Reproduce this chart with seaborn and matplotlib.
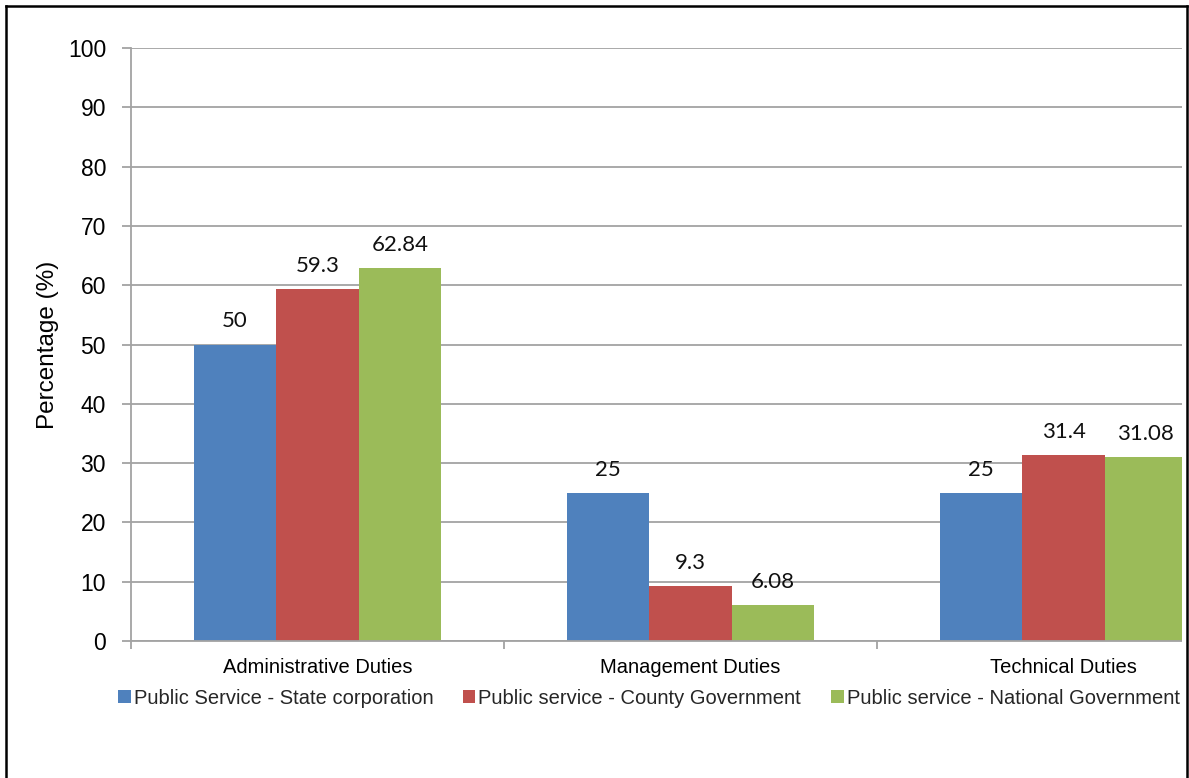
import matplotlib
matplotlib.use("Agg")
import matplotlib.pyplot as plt
from matplotlib import font_manager
from matplotlib.lines import Line2D
from matplotlib.patches import Rectangle
import pandas as pd
import seaborn as sns

# Share of respondents by type of duty, per public-service sector
duties = ["Administrative Duties", "Management Duties", "Technical Duties"]
sectors = [
    "Public Service - State corporation",
    "Public service - County Government",
    "Public service - National Government",
]
state_corp = [50, 25, 25]
county_gov = [59.3, 9.3, 31.4]
national_gov = [62.84, 6.08, 31.08]
colors = ["#4F81BD", "#C0504D", "#9BBB59"]
y_ticks = list(range(0, 101, 10))

rows = []
for sector, values in zip(sectors, [state_corp, county_gov, national_gov]):
    for duty, v in zip(duties, values):
        rows.append({"duty": duty, "sector": sector, "pct": v})
df = pd.DataFrame(rows)

sns.set_style("white")
names = {f.name for f in font_manager.fontManager.ttflist}
if "Liberation Sans Narrow" in names:
    narrow_family, narrow_size = "Liberation Sans Narrow", 17
else:
    narrow_family, narrow_size = "Liberation Sans", 14.5
plt.rcParams["font.family"] = ["Liberation Sans", "DejaVu Sans"]

W, H = 1189, 778
fig = plt.figure(figsize=(W / 100, H / 100), dpi=100)
fig.patch.set_facecolor("white")
ax = fig.add_axes([131 / W, 137 / H, 1119 / W, 593 / H])

grid_c = "#a3a3a3"
sns.barplot(
    data=df, x="duty", y="pct", hue="sector", order=duties, hue_order=sectors,
    palette=colors, saturation=1, width=0.663, gap=0, linewidth=0,
    edgecolor="none", errorbar=None, ax=ax,
)
handles, labels = ax.get_legend_handles_labels()
if ax.get_legend() is not None:
    ax.get_legend().remove()

ax.set_xlim(-0.5, 2.5)
ax.set_ylim(0, 100)
ax.set_yticks(y_ticks)
ax.set_yticklabels([str(t) for t in y_ticks], fontsize=16.5, color="black")
ax.set_axisbelow(True)
ax.yaxis.grid(True, color=grid_c, linewidth=1.3)
ax.xaxis.grid(False)
ax.tick_params(axis="y", length=6.5, width=1.3, color=grid_c, pad=11.5, left=True)

ax.set_xticks([-0.5, 0.5, 1.5, 2.5], minor=True)
ax.tick_params(axis="x", which="minor", length=5.8, width=1.3, color=grid_c, bottom=True, direction="out")
ax.tick_params(axis="x", which="major", length=0, pad=12)
ax.set_xticks(range(len(duties)))
ax.set_xticklabels(duties, family=narrow_family, fontsize=narrow_size, color="black")
ax.set_xlabel("")
ax.set_ylabel("Percentage (%)", fontsize=17.5, color="black", labelpad=6)

for side in ["top", "right"]:
    ax.spines[side].set_visible(False)
for side in ["left", "bottom"]:
    ax.spines[side].set_color(grid_c)
    ax.spines[side].set_linewidth(1.3)

for container, values in zip(ax.containers, [state_corp, county_gov, national_gov]):
    ax.bar_label(container, labels=[f"{v:g}" for v in values], padding=9.5,
                 family=["Lato", "DejaVu Sans"], fontsize=16, color="#111111")

fig.legend(
    handles, labels, loc="center", bbox_to_anchor=(649 / W, 80 / H), ncol=3,
    frameon=False, handlelength=0.6, handleheight=0.6, handletextpad=0.15,
    columnspacing=1.5, prop={"family": narrow_family, "size": narrow_size},
)

# clip the plot at the frame and draw the outer frame
fig.add_artist(Rectangle((1182 / W, 0), (W - 1182) / W, 1, transform=fig.transFigure,
                         facecolor="white", edgecolor="none", zorder=10))
lw = 1.8
for xs, ys in [([6 / W, 6 / W], [0, 1 - 6 / H]),
               ([6 / W, 1186.5 / W], [1 - 6 / H, 1 - 6 / H]),
               ([1186.5 / W, 1186.5 / W], [0, 1 - 6 / H])]:
    fig.add_artist(Line2D(xs, ys, transform=fig.transFigure, color="black",
                          linewidth=lw, solid_capstyle="projecting", zorder=11))

fig.savefig("out.png", dpi=100, facecolor="white")
